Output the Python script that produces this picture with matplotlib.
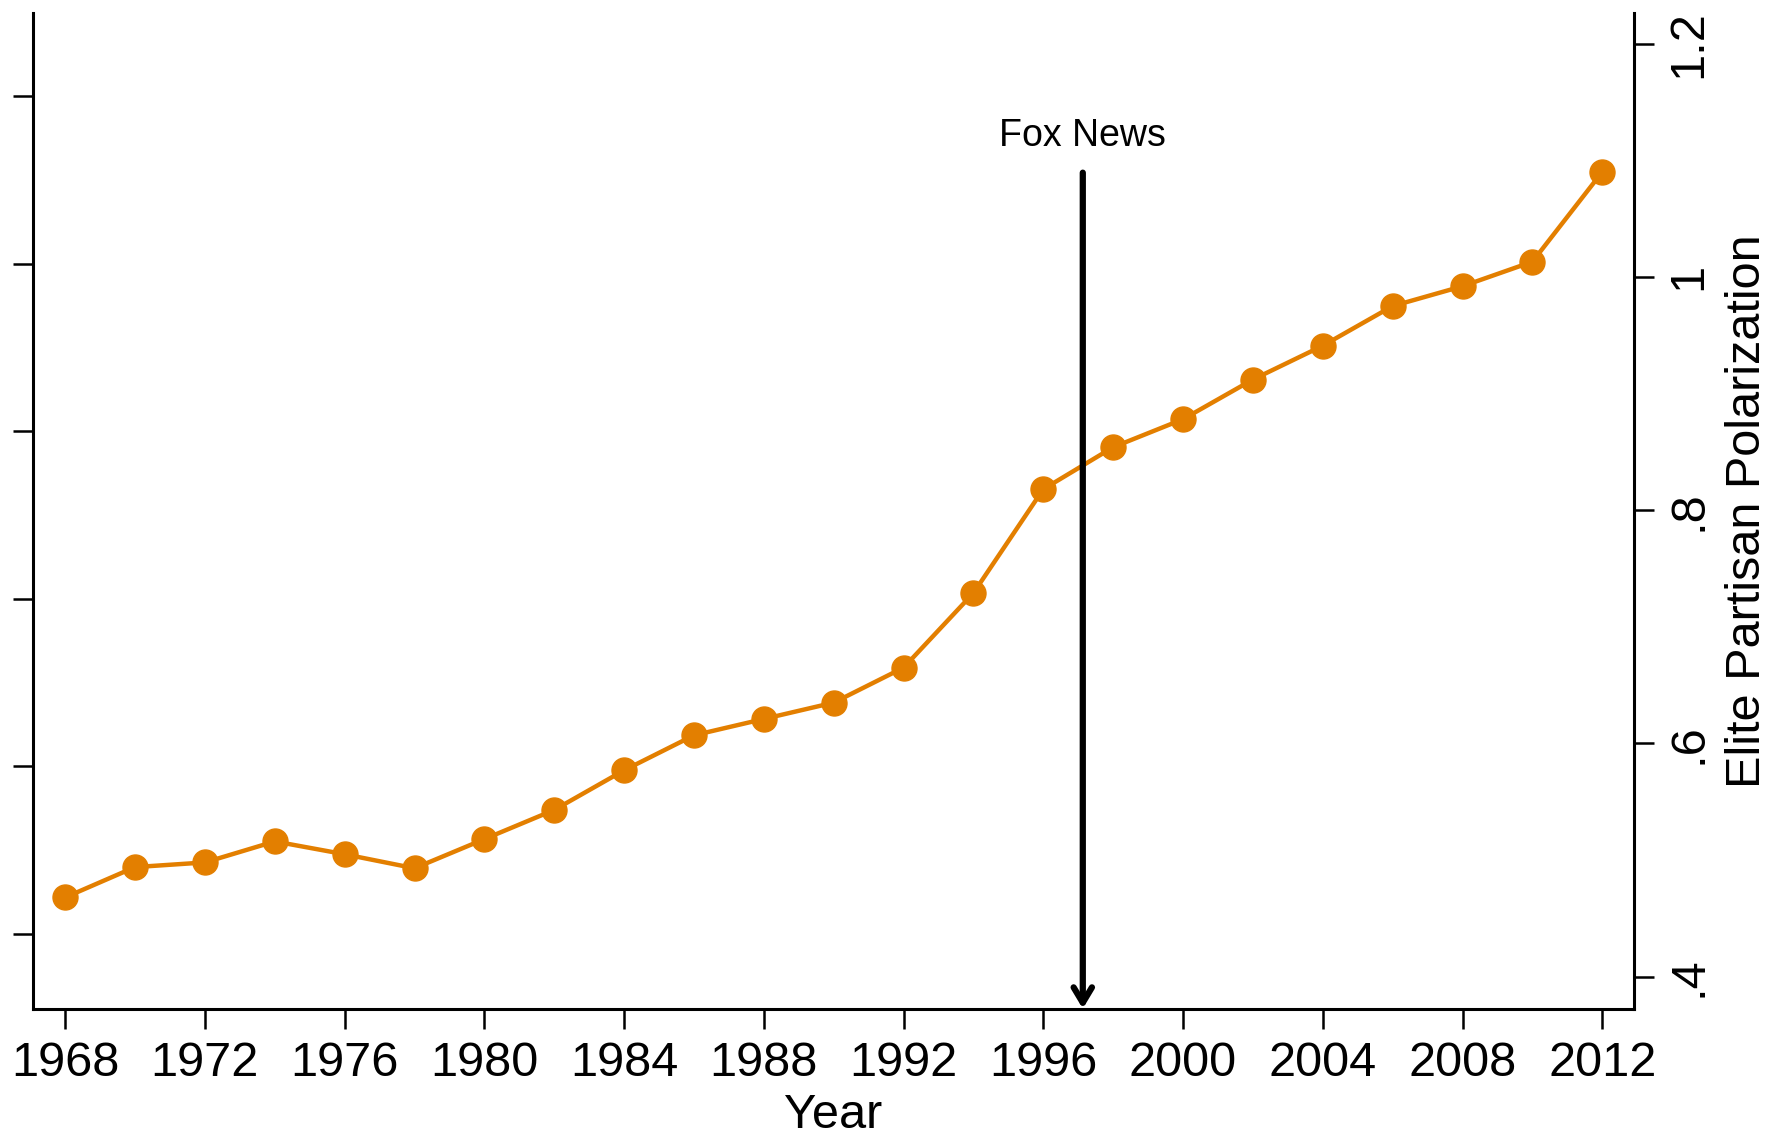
import matplotlib
matplotlib.use('Agg')
import matplotlib.pyplot as plt

# данные
years = [1968, 1970, 1972, 1974, 1976, 1978, 1980, 1982, 1984, 1986, 1988, 1990,
         1992, 1994, 1996, 1998, 2000, 2002, 2004, 2006, 2008, 2010, 2012]
polarization = [0.468, 0.494, 0.498, 0.516, 0.505, 0.493, 0.518, 0.543, 0.577,
                0.607, 0.621, 0.635, 0.665, 0.729, 0.818, 0.854, 0.878, 0.912,
                0.941, 0.975, 0.992, 1.013, 1.090]

x_ticks = list(range(1968, 2013, 4))
right_ticks = [0.4, 0.6, 0.8, 1.0, 1.2]
right_labels = ['.4', '.6', '.8', '1', '1.2']
left_ticks = [0, 1, 2, 3, 4, 5]

fox_year = 1997.13
fox_label = 'Fox News'

plt.rcParams['font.family'] = ['Liberation Sans', 'DejaVu Sans']

orange = '#e37f00'

fig = plt.figure(figsize=(17.71, 11.38), dpi=100)
ax = fig.add_axes([0.01846, 0.11362, 0.90401, 0.87522])
# левая ось: только риски, без подписей (twinx сначала, он переставляет риски ax)
axl = ax.twinx()

ax.plot(years, polarization, color=orange, lw=3.2, marker='o', ms=18,
        markerfacecolor=orange, markeredgecolor=orange, zorder=3)

ax.set_xlim(1967.07, 2012.90)
ax.set_ylim(0.3726, 1.2265)
ax.set_xticks(x_ticks)
ax.set_yticks(right_ticks)
ax.set_yticklabels(right_labels)
ax.yaxis.tick_right()
ax.yaxis.set_label_position('right')
ax.set_ylabel('Elite Partisan Polarization', fontsize=35, labelpad=10)
ax.set_xlabel('Year', fontsize=35, labelpad=5)
ax.tick_params(axis='both', direction='out', length=14.4, width=1.8,
               labelsize=35, pad=9)
for lab in ax.get_yticklabels():
    lab.set_rotation(90)
    lab.set_va('center')

for side in ['top', 'left']:
    ax.spines[side].set_visible(False)
for side in ['bottom', 'right']:
    ax.spines[side].set_linewidth(2.2)

axl.yaxis.tick_left()
axl.set_ylim(-0.449, 5.5)
axl.set_yticks(left_ticks)
axl.set_yticklabels([])
axl.tick_params(axis='y', direction='out', length=14.4, width=1.8)
for side in ['top', 'right', 'bottom']:
    axl.spines[side].set_visible(False)
axl.spines['left'].set_linewidth(2.2)

# стрелка Fox News
ax.annotate('', xy=(fox_year, 0.0), xytext=(fox_year, 0.8394),
            xycoords=('data', 'axes fraction'), textcoords=('data', 'axes fraction'),
            arrowprops=dict(arrowstyle='->,head_length=0.55,head_width=0.33',
                            lw=4.5, color='black', shrinkA=0, shrinkB=0,
                            mutation_scale=20),
            zorder=4)
ax.text(fox_year, 0.8665, fox_label, transform=ax.get_xaxis_transform(),
        ha='center', va='baseline', fontsize=27)

fig.savefig('out.png', dpi=100)
